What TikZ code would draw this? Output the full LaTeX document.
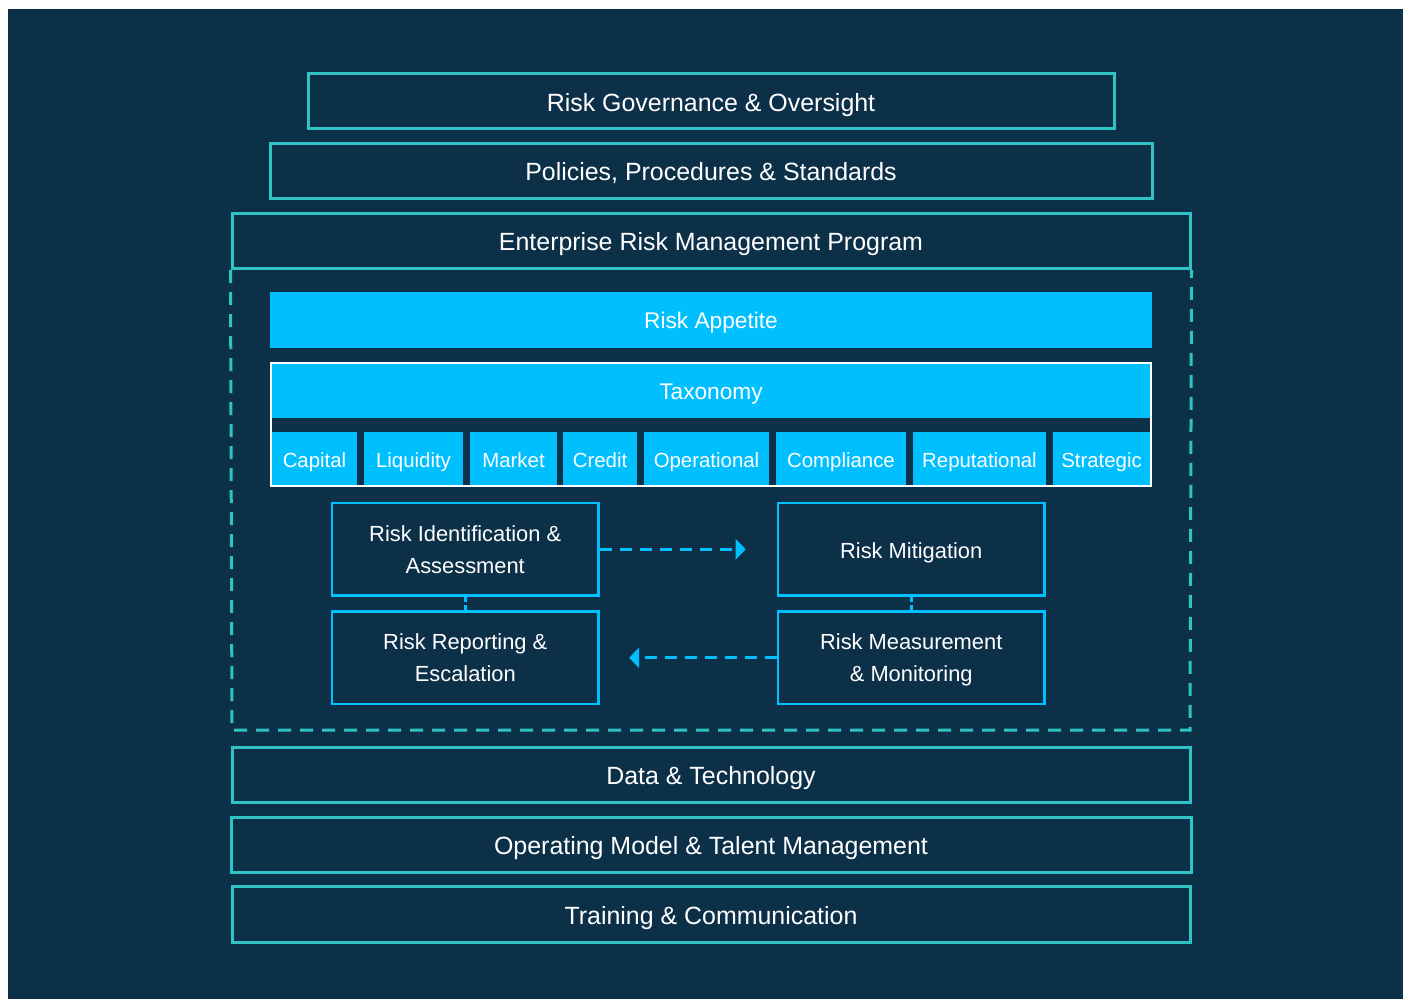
\documentclass[tikz,border=0pt]{standalone}
\usepackage{fontspec}
\setmainfont{Liberation Sans}
\usetikzlibrary{arrows.meta}
\definecolor{navy}{HTML}{0D3049}
\definecolor{teal}{HTML}{2EC4C6}
\definecolor{sky}{HTML}{00BFFF}
\tikzset{
  layer/.style={draw=teal, line width=2.25pt, minimum height=41.6pt, text=white,
    font=\fontsize{18.7}{22}\selectfont, inner sep=0pt, text height=14.9pt, text depth=0pt},
  bluebar/.style={fill=sky, minimum height=42pt, text=white,
    font=\fontsize{17}{20}\selectfont, inner sep=0pt, text height=13.4pt, text depth=0pt},
  cell/.style={fill=sky, minimum height=39.75pt, text=white,
    font=\fontsize{15.3}{18}\selectfont, inner sep=0pt, text height=14pt, text depth=0pt},
  procbox/.style={draw=sky, line width=1.9pt, minimum width=199.9pt, minimum height=69.4pt,
    text=white, align=center, font=\fontsize{16.4}{24}\selectfont, inner sep=0pt, text depth=-3pt},
  flow/.style={draw=sky, line width=2.1pt, dash pattern=on 9pt off 6pt,
    -{Triangle[length=7.5pt,width=15pt]}},
  link/.style={draw=sky, line width=1.9pt, dash pattern=on 4pt off 2.5pt},
}
\begin{document}
\begin{tikzpicture}[x=0.75pt,y=-0.75pt]
\useasboundingbox (0,0) rectangle (1403,999);
\fill[white] (0,0) rectangle (1403,999);
\fill[navy] (8,9) rectangle (1403,999);

% top layers
\node[layer, minimum width=604.5pt] (gov) at (711,101.2) {Risk Governance \& Oversight};
\node[layer, minimum width=661.5pt] (pol) at (711,170.8) {Policies, Procedures \& Standards};
\node[layer, minimum width=718.5pt] (erm) at (711,240.8) {Enterprise Risk Management Program};

% dashed program frame
\draw[teal, line width=2.25pt, dash pattern=on 9.75pt off 6.75pt]
  (erm.south west) -- (232,730) -- (1190,730) -- (erm.south east);

% risk appetite
\node[bluebar, minimum width=661.5pt] (app) at (711,320) {Risk Appetite};

% taxonomy
\node[bluebar, minimum width=658.5pt, minimum height=40.5pt] (tax) at (711,391) {Taxonomy};
\node[cell, minimum width=63.75pt] (c1) at (314.5,458.5) {Capital};
\node[cell, minimum width=74.25pt] (c2) at (413.5,458.5) {Liquidity};
\node[cell, minimum width=65.25pt] (c3) at (513.5,458.5) {Market};
\node[cell, minimum width=55.5pt] (c4) at (600,458.5) {Credit};
\node[cell, minimum width=93.75pt] (c5) at (706.5,458.5) {Operational};
\node[cell, minimum width=97.5pt] (c6) at (841,458.5) {Compliance};
\node[cell, minimum width=99.75pt] (c7) at (979.5,458.5) {Reputational};
\node[cell, minimum width=72.75pt] (c8) at (1101.5,458.5) {Strategic};
\draw[white, line width=1.5pt] (271,363) rectangle (1151,486);

% process boxes
\node[procbox] (ident) at (465.25,549.25) {Risk Identification \&\\Assessment};
\node[procbox, text height=13.2pt, text depth=0pt] (mitig) at (911.25,549.25) {Risk Mitigation};
\node[procbox] (report) at (465.25,657.75) {Risk Reporting \&\\Escalation};
\node[procbox] (measure) at (911.25,657.75) {Risk Measurement\\\& Monitoring};

\draw[flow, shorten >=23.25pt] (ident.east) -- (mitig.west);
\draw[flow, shorten >=22pt] (measure.west) -- (report.east);
\draw[link] (ident.south) -- (report.north);
\draw[link] (mitig.south) -- (measure.north);

% bottom layers
\node[layer, minimum width=718.5pt] (data) at (711,775) {Data \& Technology};
\node[layer, minimum width=720pt] (opm) at (711,845) {Operating Model \& Talent Management};
\node[layer, minimum width=718.5pt] (train) at (711,914.5) {Training \& Communication};
\end{tikzpicture}
\end{document}
